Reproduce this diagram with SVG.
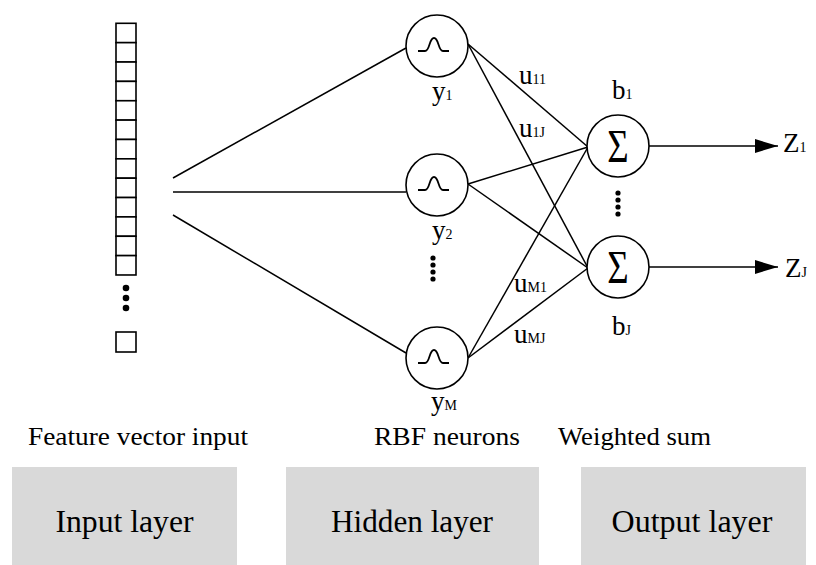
<svg xmlns="http://www.w3.org/2000/svg" width="816" height="565" viewBox="0 0 816 565">
<style>
.ln{stroke:#000;stroke-width:1.5;fill:none}
.nd{stroke:#000;stroke-width:1.6;fill:#fff}
.cell{stroke:#000;stroke-width:1.6;fill:#fff}
.t{font-family:"Liberation Serif","Times New Roman",serif;fill:#000}
.lbl{font-size:27px}
.sub{font-size:14px}
.cap{font-size:26px}
.lay{font-size:31px}
.sig{font-size:46px}
.box{fill:#d9d9d9}
.dot{fill:#000}
</style>
<defs>
<marker id="ah" markerWidth="24" markerHeight="14" refX="23" refY="7" orient="auto" markerUnits="userSpaceOnUse">
<path d="M0,0 L23,7 L0,14 Z" fill="#000"/>
</marker>
<path id="bump" d="M-19,5 H-12 C-7,5 -8,-8 -3,-8 C2,-8 1,5 6,5 H12" fill="none" stroke="#000" stroke-width="1.8"/>
</defs>

<g id="connectors">
<line class="ln" x1="173" y1="178" x2="406" y2="48"/>
<line class="ln" x1="173" y1="192" x2="406" y2="192"/>
<line class="ln" x1="173" y1="215" x2="406" y2="353"/>
<line class="ln" x1="468" y1="44" x2="588" y2="147"/>
<line class="ln" x1="468" y1="44" x2="588" y2="268"/>
<line class="ln" x1="468" y1="184" x2="588" y2="147"/>
<line class="ln" x1="468" y1="184" x2="588" y2="268"/>
<line class="ln" x1="468" y1="358" x2="588" y2="147"/>
<line class="ln" x1="468" y1="358" x2="588" y2="268"/>
<line class="ln" x1="649" y1="146" x2="778" y2="146" marker-end="url(#ah)"/>
<line class="ln" x1="649" y1="267" x2="778" y2="267" marker-end="url(#ah)"/>
</g>

<g id="input-vector">
<rect class="cell" x="116" y="23.3" width="20" height="19.36"/>
<rect class="cell" x="116" y="42.66" width="20" height="19.36"/>
<rect class="cell" x="116" y="62.02" width="20" height="19.36"/>
<rect class="cell" x="116" y="81.38" width="20" height="19.36"/>
<rect class="cell" x="116" y="100.74" width="20" height="19.36"/>
<rect class="cell" x="116" y="120.1" width="20" height="19.36"/>
<rect class="cell" x="116" y="139.46" width="20" height="19.36"/>
<rect class="cell" x="116" y="158.82" width="20" height="19.36"/>
<rect class="cell" x="116" y="178.18" width="20" height="19.36"/>
<rect class="cell" x="116" y="197.54" width="20" height="19.36"/>
<rect class="cell" x="116" y="216.9" width="20" height="19.36"/>
<rect class="cell" x="116" y="236.26" width="20" height="19.36"/>
<rect class="cell" x="116" y="255.62" width="20" height="19.36"/>
<circle class="dot" cx="126" cy="288" r="3.3"/>
<circle class="dot" cx="126" cy="298" r="3.3"/>
<circle class="dot" cx="126" cy="308" r="3.3"/>
<rect class="cell" x="116" y="332" width="20" height="20"/>
</g>

<g id="hidden-y1">
<circle class="nd" cx="437" cy="46" r="31"/>
<use href="#bump" x="437" y="46"/>
<text class="t lbl" x="432" y="100">y<tspan class="sub">1</tspan></text>
</g>
<g id="hidden-y2">
<circle class="nd" cx="437" cy="185" r="31"/>
<use href="#bump" x="437" y="185"/>
<text class="t lbl" x="432" y="239">y<tspan class="sub">2</tspan></text>
<circle class="dot" cx="433" cy="258" r="2.6"/>
<circle class="dot" cx="433" cy="265" r="2.6"/>
<circle class="dot" cx="433" cy="272" r="2.6"/>
<circle class="dot" cx="433" cy="279" r="2.6"/>
</g>
<g id="hidden-yM">
<circle class="nd" cx="437" cy="358" r="31"/>
<use href="#bump" x="437" y="358"/>
<text class="t lbl" x="431" y="410">y<tspan class="sub">M</tspan></text>
</g>

<g id="weights">
<text class="t lbl" x="519" y="84">u<tspan class="sub">11</tspan></text>
<text class="t lbl" x="519" y="137">u<tspan class="sub">1J</tspan></text>
<text class="t lbl" x="514" y="292">u<tspan class="sub">M1</tspan></text>
<text class="t lbl" x="514" y="343">u<tspan class="sub">MJ</tspan></text>
</g>

<g id="output-1">
<circle class="nd" cx="618" cy="146" r="31"/>
<text class="t sig" x="0" y="0" text-anchor="middle" transform="translate(618,162) scale(0.8,1)">Σ</text>
<text class="t lbl" x="612" y="99">b<tspan class="sub">1</tspan></text>
<circle class="dot" cx="618" cy="193" r="2.6"/>
<circle class="dot" cx="618" cy="200" r="2.6"/>
<circle class="dot" cx="618" cy="207" r="2.6"/>
<circle class="dot" cx="618" cy="214" r="2.6"/>
</g>
<g id="output-J">
<circle class="nd" cx="618" cy="267" r="31"/>
<text class="t sig" x="0" y="0" text-anchor="middle" transform="translate(618,283) scale(0.8,1)">Σ</text>
<text class="t lbl" x="612" y="335">b<tspan class="sub">J</tspan></text>
</g>

<g id="outputs">
<text class="t lbl" x="783" y="152">Z<tspan class="sub">1</tspan></text>
<text class="t lbl" x="785" y="277">Z<tspan class="sub">J</tspan></text>
</g>

<g id="captions">
<text class="t cap" x="28" y="445" textLength="220" lengthAdjust="spacingAndGlyphs">Feature vector input</text>
<text class="t cap" x="374" y="445" textLength="146" lengthAdjust="spacingAndGlyphs">RBF neurons</text>
<text class="t cap" x="558" y="445" textLength="153" lengthAdjust="spacingAndGlyphs">Weighted sum</text>
</g>

<g id="layer-input">
<rect class="box" x="12" y="467" width="225" height="100"/>
<text class="t lay" x="124.5" y="532" text-anchor="middle" textLength="138" lengthAdjust="spacingAndGlyphs">Input layer</text>
</g>
<g id="layer-hidden">
<rect class="box" x="286" y="467" width="253" height="100"/>
<text class="t lay" x="412" y="532" text-anchor="middle" textLength="162" lengthAdjust="spacingAndGlyphs">Hidden layer</text>
</g>
<g id="layer-output">
<rect class="box" x="581" y="467" width="225" height="100"/>
<text class="t lay" x="692" y="532" text-anchor="middle" textLength="161" lengthAdjust="spacingAndGlyphs">Output layer</text>
</g>
</svg>
